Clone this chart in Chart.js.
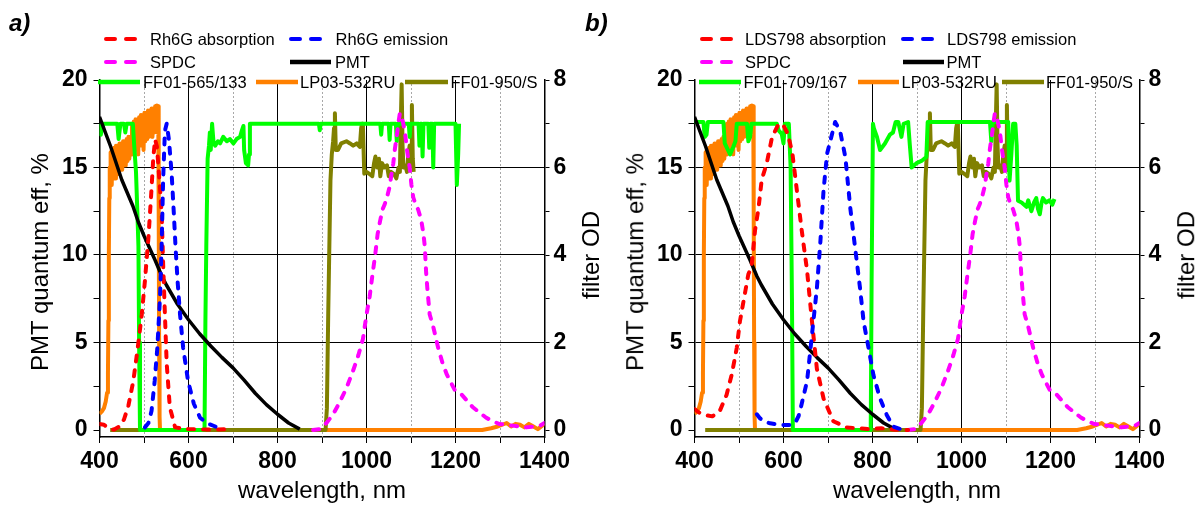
<!DOCTYPE html>
<html>
<head>
<meta charset="utf-8">
<script src="https://cdn.jsdelivr.net/npm/chart.js@4.4.1/dist/chart.umd.min.js"></script>
<style>
  html, body { margin: 0; padding: 0; background: #fff; }
  #wrap { position: relative; width: 1198px; height: 506px; overflow: hidden; background: #fff;
          font-family: 'Liberation Sans', Arial, sans-serif; color: #000; }
  canvas { position: absolute; top: 0; }
  .txt { position: absolute; white-space: nowrap; line-height: 1.15; }
  .leg { font-size: 16.5px; transform: translateY(-50%); }
  .axt { font-size: 24px; transform: translate(-50%, -50%); }
  .axt.rot { transform: translate(-50%, -50%) rotate(-90deg); }
  .panel { font-size: 24px; font-weight: bold; font-style: italic; }
  svg.sample { position: absolute; overflow: visible; }
</style>
</head>
<body>
<div id="wrap">
  <canvas id="chartA" width="599" height="506" style="left:0"></canvas>
  <canvas id="chartB" width="599" height="506" style="left:595px"></canvas>
</div>
<script>
// ---- axis ticks ----
const xTicks = [400, 500, 600, 700, 800, 900, 1000, 1100, 1200, 1300, 1400];
const xLabels = [400, 600, 800, 1000, 1200, 1400];
const xMinor = [500, 700, 900, 1100, 1300];
const qeTicks = [0, 2.5, 5, 7.5, 10, 12.5, 15, 17.5, 20];
const qeLabels = [0, 5, 10, 15, 20];
const odTicks = [0, 1, 2, 3, 4, 5, 6, 7, 8];
const odLabels = [0, 2, 4, 6, 8];

// ---- data: [wavelength nm, value] ----
// PMT quantum efficiency, %
const pmt = [[400,17.9],[425,16.2],[450,14.3],[475,12.8],[487,11.9],[500,11.1],[525,9.7],[540,8.8],[550,8.3],
  [575,7.2],[600,6.3],[625,5.5],[650,4.8],[675,4.15],[700,3.55],[725,2.85],[750,2.1],[775,1.45],
  [800,0.9],[825,0.4],[850,0.05]];

// SPDC spectrum (a.u., left axis)
const spdc = [[880,0],[895,0.05],[910,0.4],[925,0.9],[940,1.6],[955,2.4],[970,3.4],[982,4.3],[992,5.2],
  [1000,6.6],[1007,7.6],[1013,8.8],[1019,9.9],[1025,11.2],[1031,12.0],[1036,12.6],[1041,12.9],[1047,13.4],
  [1052,13.9],[1056,14.6],[1060,15.2],[1064,16.1],[1068,16.8],[1072,17.6],[1075,18.1],[1080,17.8],[1086,17.1],
  [1091,16.0],[1097,15.0],[1101,14.0],[1105,13.3],[1110,12.9],[1116,12.6],[1123,12.0],[1128,11.2],[1131,10.5],
  [1134,9.0],[1137,8.0],[1142,6.6],[1150,5.9],[1161,4.7],[1170,3.9],[1180,3.2],[1190,2.7],[1198,2.3],
  [1213,2.05],[1225,1.7],[1239,1.3],[1254,1.0],[1269,0.7],[1284,0.5],[1299,0.34],[1314,0.3],[1329,0.25],
  [1344,0.2],[1359,0.15],[1375,0.2],[1390,0.25],[1400,0.4]];

// Rh6G (panel a)
const rh6gAbs = [[400,0.34],[410,0.3],[420,0.1],[432,0.02],[445,0.2],[455,0.6],[465,1.4],[476,2.8],[486,4.7],
  [495,6.6],[502,8.5],[510,11.0],[516,13.4],[521,15.6],[525,16.6],[529,16.2],[532,15.2],[536,13.8],[540,12.2],
  [543,9.5],[547,6.6],[551,3.8],[558,1.3],[570,0.15],[600,0.05],[650,0.02],[700,0.05]];
const rh6gEm = [[502,0.15],[510,0.4],[517,1.1],[524,2.8],[530,4.7],[536,7.6],[539.5,10.4],[543,14.3],[547,17.1],
  [551,17.5],[556,16.6],[562,14.7],[567,12.4],[571,10.4],[575.5,8.5],[581,6.6],[588,4.7],[599,2.8],[612,1.5],
  [626,0.7],[645,0.35],[660,0.2],[680,0.05]];

// LDS798 (panel b)
const ldsAbs = [[400,1.2],[410,1.0],[425,0.85],[440,0.78],[457,1.1],[472,2.0],[484,3.2],[495,4.7],[502,6.2],
  [514,7.9],[521,8.9],[528,9.3],[536,11.4],[544,12.7],[551,14.3],[562,15.2],[574,16.7],[589,17.5],[600,17.4],
  [610,16.9],[620,15.8],[630,13.7],[641,11.4],[653,9.1],[664,6.2],[675,3.5],[690,1.8],[712,0.5],[742,0.15],
  [790,0.05],[820,0.1],[850,0.02],[880,0]];
const ldsEm = [[540,0.9],[547,0.67],[560,0.45],[570,0.38],[597,0.28],[619,0.28],[628,0.5],[634,0.8],[640,1.4],
  [653,2.8],[664,5.45],[675,8.1],[683,10.8],[690,13.7],[698,15.8],[709,16.9],[716,17.6],[727,17.1],[739,15.6],
  [750,12.7],[761,10.4],[772,8.1],[780,6.2],[791,4.7],[802,3.15],[817,1.8],[832,0.86],[847,0.19],[869,0],[880,0]];

// filter OD (right axis)
const ff565 = [[400,7.0],[403,6.75],[407,7.0],[440,7.0],[443,6.65],[447,7.0],[455,7.0],[458,6.8],[461,7.0],
  [475,7.0],[478,6.5],[482,5.9],[485,5.0],[487.5,4.2],[489,2.0],[491,0],[636,0],[638,2.5],[640,4.2],[643,6.2],
  [646,6.5],[648,6.8],[650,6.4],[653,7.0],[656,6.6],[660,6.5],[666,6.6],[671,6.55],[678,6.7],[686,6.6],
  [693,6.65],[701,6.55],[708,6.65],[716,6.7],[720,6.85],[723.5,6.95],[725,6.4],[729,6.1],[734,6.05],[736,6.3],
  [738,7.0],[893,7.0],[895,6.85],[897,7.0],[1031,7.0],[1033,6.75],[1035,7.0],[1050,7.0],[1052,6.63],[1054,7.0],
  [1066,7.0],[1068,6.6],[1070,7.0],[1095,7.0],[1097,6.7],[1099,7.0],[1117,7.0],[1119,6.5],[1121,7.0],[1124,7.0],
  [1126,6.25],[1128,7.0],[1139,7.0],[1141,6.45],[1143,7.0],[1148,7.0],[1150,6.0],[1152,7.0],[1200,7.0],
  [1203,5.6],[1206,6.3],[1208,7.0],[1210,7.0]];
const ff709 = [[400,7.04],[420,7.04],[423,6.7],[427,6.75],[430,7.04],[465,7.04],[468,6.55],[480,6.3],[487,6.47],
  [492,6.6],[495,7.0],[518,7.0],[521,6.6],[525,6.7],[528,7.0],[585,7.0],[589,6.85],[596,6.77],[600,6.55],
  [603,7.0],[612,7.0],[616,6.0],[619,3.0],[621,0],[796,0],[798,3.4],[801,7.0],[803,6.9],[810,6.7],[817,6.4],
  [828,6.55],[839,6.75],[846,6.8],[852,7.04],[858,7.04],[865,6.7],[870,7.0],[880,7.04],[884,6.5],[888,6.0],
  [899,6.1],[910,6.15],[921,6.24],[924,7.04],[1064,7.04],[1067,6.6],[1070,7.04],[1105,7.04],[1108,5.7],
  [1112,6.3],[1116,7.0],[1121,7.0],[1124,6.5],[1127,5.24],[1135,5.2],[1146,5.1],[1150,5.25],[1157,5.0],
  [1163,5.2],[1168,5.3],[1172,5.05],[1176,4.93],[1180,5.2],[1183,5.3],[1190,5.2],[1198,5.25],[1204,5.15],[1209,5.28]];
const lp532 = [[400,0.37],[405,0.42],[410,0.5],[414,0.65],[417,0.85],[419,1.3],[420,2.5],[421,4.0],[422,5.3],
  [423,6.0],[424,5.7],[425,6.35],[426,5.8],[427,6.4],[428,5.6],[429,6.4],[431,5.9],[433,6.45],[435,5.75],
  [437,6.5],[439,5.95],[441,6.5],[443,5.85],[445,6.55],[447,6.0],[449,6.55],[451,5.95],[453,6.6],[455,6.1],
  [457,6.6],[459,6.05],[461,6.65],[463,6.15],[465,6.7],[467,6.2],[469,6.7],[471,6.3],[473,7.0],[475,6.35],
  [477,7.05],[479,6.4],[481,7.1],[483,6.45],[485,7.1],[487,6.3],[489,7.15],[491,6.5],[493,7.2],[495,6.55],
  [497,7.2],[499,6.4],[501,7.25],[503,6.6],[505,7.25],[507,6.65],[509,7.3],[511,6.7],[513,7.3],[515,6.75],
  [517,7.35],[519,6.7],[521,7.35],[523,6.8],[525,7.4],[527,6.9],[529,7.42],[531,6.8],[532,7.4],[533,5.0],
  [534,2.0],[535,0.3],[536,0],[800,0],[1000,0],[1260,0],[1280,0.04],[1295,0.08],[1305,0.12],[1315,0.16],
  [1325,0.08],[1335,0.14],[1345,0.12],[1355,0.06],[1365,0.14],[1375,0.08],[1385,0.02],[1395,0.1],[1400,0.15]];
const ff950 = [[424,0],[600,0],[800,0],[908,0],[911,0.5],[914,2.66],[917,4.5],[919,5.7],[922,6.3],[925,6.6],
  [927,6.9],[929,7.24],[931,6.4],[936,6.4],[943,6.55],[955,6.6],[963,6.55],[970,6.5],[978,6.55],[985,6.47],
  [988,6.9],[990,7.0],[992,6.9],[995,5.86],[1000,5.9],[1007,5.85],[1013,5.8],[1017,6.1],[1020,6.25],[1024,6.0],
  [1028,6.2],[1031,5.8],[1035,6.1],[1040,6.0],[1046,6.05],[1050,5.8],[1055,5.9],[1062,5.85],[1067,5.75],
  [1072,6.0],[1075,5.9],[1077,7.0],[1079,7.9],[1081,6.5],[1083,6.0],[1087,6.05],[1091,5.9],[1094,6.3],
  [1097,6.5],[1100,6.05],[1102,7.43],[1104,6.2],[1106,5.9]];

const RED = '#ff0000', BLUE = '#0000ff', MAG = '#ff00ff', GREEN = '#00ff00', ORANGE = '#ff8000', OLIVE = '#808000';
const FONT = "'Liberation Sans', Arial, sans-serif";

const pts = arr => arr.map(p => ({ x: p[0], y: p[1] }));

function line(data, color, axis, dashed, width) {
    return {
        data: pts(data),
        yAxisID: axis,
        borderColor: color,
        borderWidth: width,
        borderDash: dashed ? [6, 9] : [],
        borderCapStyle: dashed ? 'round' : 'butt',
        borderJoinStyle: 'round',
        pointRadius: 0,
        fill: false,
        tension: 0
    };
}

// dotted minor grid lines (x = 500, 700, ...)
const minorGrid = {
    id: 'minorGrid',
    beforeDatasetsDraw(chart) {
        const { ctx, chartArea, scales } = chart;
        ctx.save();
        ctx.strokeStyle = '#a8a8a8';
        ctx.lineWidth = 1;
        ctx.setLineDash([2, 2]);
        xMinor.forEach(v => {
            const px = Math.round(scales.x.getPixelForValue(v)) + 0.5;
            ctx.beginPath();
            ctx.moveTo(px, chartArea.top);
            ctx.lineTo(px, chartArea.bottom);
            ctx.stroke();
        });
        ctx.restore();
    }
};

const tickFont = { family: FONT, size: 23, weight: 'bold' };
const setTicks = vals => scale => { scale.ticks = vals.map(v => ({ value: v })); };

function makeChart(id, absData, emData, bandData) {
    return new Chart(document.getElementById(id), {
        type: 'line',
        data: {
            datasets: [
                line(emData, BLUE, 'y', true, 4),
                line(absData, RED, 'y', true, 4),
                line(spdc, MAG, 'y', true, 4),
                line(pmt, '#000', 'y', false, 3.5),
                line(bandData, GREEN, 'y2', false, 4),
                line(ff950, OLIVE, 'y2', false, 4),
                line(lp532, ORANGE, 'y2', false, 4)
            ]
        },
        options: {
            responsive: false,
            animation: false,
            events: [],
            layout: { padding: { top: 80, left: 0, right: 0, bottom: 0 } },
            plugins: { legend: { display: false }, tooltip: { enabled: false } },
            scales: {
                x: {
                    type: 'linear', min: 400, max: 1400,
                    afterBuildTicks: setTicks(xTicks),
                    afterFit: s => { s.height = 69; },
                    ticks: {
                        autoSkip: false, maxRotation: 0, padding: 5, color: '#000', font: tickFont,
                        callback: v => xLabels.includes(v) ? String(v) : ''
                    },
                    grid: {
                        color: c => (c.tick && c.tick.value > 400 && c.tick.value < 1400 && c.tick.value % 200 === 0) ? '#000' : 'rgba(0,0,0,0)',
                        tickColor: '#000', tickLength: 6, lineWidth: 1
                    },
                    border: { color: '#000', width: 1.5 }
                },
                y: {
                    position: 'left', min: -0.4, max: 20,
                    afterBuildTicks: setTicks(qeTicks),
                    afterFit: s => { s.width = 99.5; },
                    ticks: {
                        autoSkip: false, padding: 6, color: '#000', font: tickFont,
                        callback: v => qeLabels.includes(v) ? String(v) : ''
                    },
                    grid: {
                        color: c => (c.tick && [5, 10, 15].includes(c.tick.value)) ? '#000' : 'rgba(0,0,0,0)',
                        tickColor: '#000', tickLength: 6, lineWidth: 1
                    },
                    border: { color: '#000', width: 1.5 }
                },
                y2: {
                    position: 'right', min: -0.16, max: 8,
                    afterBuildTicks: setTicks(odTicks),
                    afterFit: s => { s.width = 54.5; },
                    ticks: {
                        autoSkip: false, padding: 4, color: '#000', font: tickFont,
                        callback: v => odLabels.includes(v) ? String(v) : ''
                    },
                    grid: { drawOnChartArea: false, tickColor: '#000', tickLength: 5, lineWidth: 1 },
                    border: { color: '#000', width: 1.5 }
                }
            }
        },
        plugins: [minorGrid]
    });
}

makeChart('chartA', rh6gAbs, rh6gEm, ff565);
makeChart('chartB', ldsAbs, ldsEm, ff709);

// ---- text + legend overlay ----
const wrap = document.getElementById('wrap');

function addText(str, cls, x, y, extra) {
    const el = document.createElement('div');
    el.className = 'txt ' + cls;
    el.textContent = str;
    el.style.left = x + 'px';
    el.style.top = y + 'px';
    if (extra) Object.assign(el.style, extra);
    wrap.appendChild(el);
    return el;
}

function addSample(x, y, w, color, dashed, thick) {
    const ns = 'http://www.w3.org/2000/svg';
    const svg = document.createElementNS(ns, 'svg');
    svg.setAttribute('class', 'sample');
    svg.setAttribute('width', w);
    svg.setAttribute('height', 8);
    svg.style.left = x + 'px';
    svg.style.top = (y - 4) + 'px';
    const ln = document.createElementNS(ns, 'line');
    ln.setAttribute('x1', dashed ? 2 : 0);
    ln.setAttribute('x2', dashed ? w - 2 : w);
    ln.setAttribute('y1', 4);
    ln.setAttribute('y2', 4);
    ln.setAttribute('stroke', color);
    ln.setAttribute('stroke-width', thick);
    if (dashed) {
        ln.setAttribute('stroke-dasharray', '9 11');
        ln.setAttribute('stroke-linecap', 'round');
    }
    svg.appendChild(ln);
    wrap.appendChild(svg);
}

function legend(items) {
    items.forEach(it => {
        addSample(it.sx, it.y, it.sw, it.color, it.dashed, it.dashed ? 4 : 4.5);
        addText(it.label, 'leg', it.tx, it.y);
    });
}

const R1 = 38.5, R2 = 61.5, R3 = 81.5;

legend([
    { label: 'Rh6G absorption', color: RED, dashed: true, sx: 104, sw: 34, tx: 150, y: R1 },
    { label: 'Rh6G emission', color: BLUE, dashed: true, sx: 289, sw: 34, tx: 335.5, y: R1 },
    { label: 'SPDC', color: MAG, dashed: true, sx: 104, sw: 34, tx: 150, y: R2 },
    { label: 'PMT', color: '#000', dashed: false, sx: 290, sw: 41, tx: 335, y: R2 },
    { label: 'FF01-565/133', color: GREEN, dashed: false, sx: 97.5, sw: 42, tx: 143, y: R3 },
    { label: 'LP03-532RU', color: ORANGE, dashed: false, sx: 255.5, sw: 42, tx: 300, y: R3 },
    { label: 'FF01-950/S', color: OLIVE, dashed: false, sx: 405, sw: 43, tx: 450.5, y: R3 }
]);
legend([
    { label: 'LDS798 absorption', color: RED, dashed: true, sx: 700, sw: 34, tx: 745, y: R1 },
    { label: 'LDS798 emission', color: BLUE, dashed: true, sx: 901, sw: 34, tx: 947, y: R1 },
    { label: 'SPDC', color: MAG, dashed: true, sx: 700, sw: 34, tx: 745, y: R2 },
    { label: 'PMT', color: '#000', dashed: false, sx: 902.5, sw: 41, tx: 946.5, y: R2 },
    { label: 'FF01-709/167', color: GREEN, dashed: false, sx: 698.5, sw: 42, tx: 743.5, y: R3 },
    { label: 'LP03-532RU', color: ORANGE, dashed: false, sx: 857.5, sw: 41, tx: 901.5, y: R3 },
    { label: 'FF01-950/S', color: OLIVE, dashed: false, sx: 1002, sw: 42, tx: 1046, y: R3 }
]);

// panel labels
addText('a)', 'panel', 9, 9);
addText('b)', 'panel', 585, 9);

// axis titles
addText('PMT quantum eff, %', 'axt rot', 40, 262);
addText('filter OD', 'axt rot', 591, 255);
addText('wavelength, nm', 'axt', 322, 490);
addText('PMT quantum eff, %', 'axt rot', 635, 262);
addText('filter OD', 'axt rot', 1186, 255);
addText('wavelength, nm', 'axt', 917, 490);
</script>
</body>
</html>
